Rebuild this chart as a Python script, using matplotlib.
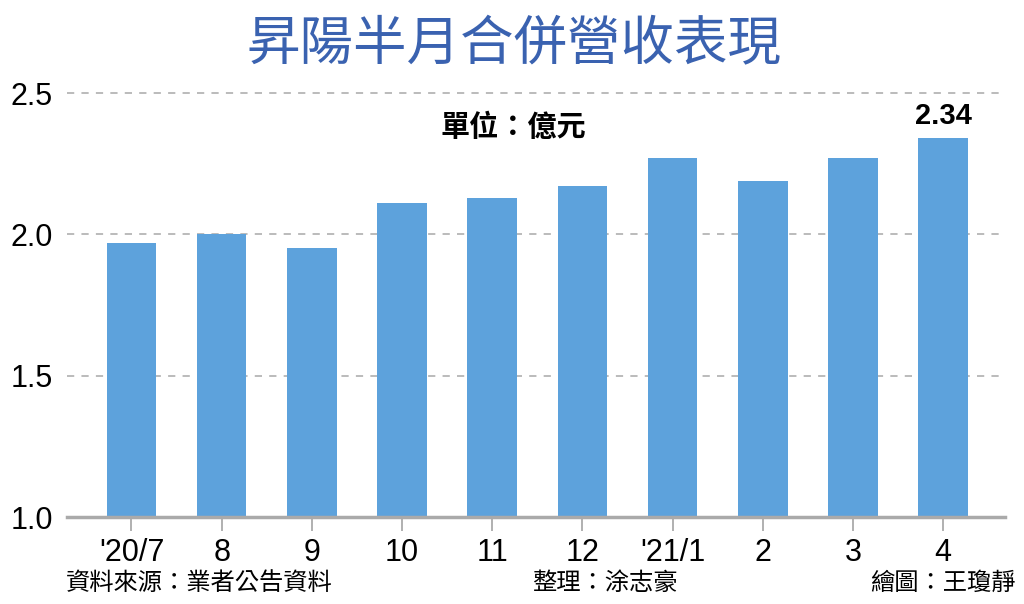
import matplotlib
matplotlib.use("Agg")
import matplotlib.pyplot as plt
import numpy as np

plt.rcParams['font.family'] = ['Noto Sans CJK TC', 'DejaVu Sans']

months = ["'20/7", "8", "9", "10", "11", "12", "'21/1", "2", "3", "4"]
revenue = [1.97, 2.00, 1.95, 2.11, 2.13, 2.17, 2.27, 2.19, 2.27, 2.34]
yticks = [1.0, 1.5, 2.0, 2.5]

fig = plt.figure(figsize=(10.24, 6.04), dpi=100)
ax = fig.add_axes([0.065, 0.144, 0.916, 0.702])

x = np.arange(len(months))
ax.bar(x, revenue, width=0.55, color='#5da2dc', zorder=3)

ax.set_ylim(1.0, 2.5)
ax.set_xlim(-0.72, len(months) - 1 + 0.68)
ax.set_yticks(yticks)
ax.set_yticklabels([f"{v:.1f}" for v in yticks], fontsize=22, family=['Liberation Sans', 'DejaVu Sans'])
ax.set_xticks(x)
ax.set_xticklabels(months, fontsize=22, family=['Liberation Sans Narrow', 'Liberation Sans'])

for v in yticks[1:]:
    ax.axhline(v, color='#b5b5b5', lw=1.3, ls=(0, (4, 4)), zorder=1, clip_on=False)

for s in ['top', 'right', 'left']:
    ax.spines[s].set_visible(False)
ax.spines['bottom'].set_color('#aaaaaa')
ax.spines['bottom'].set_linewidth(2.5)
ax.spines['bottom'].set_zorder(4)
ax.tick_params(axis='y', length=0, pad=10)
ax.tick_params(axis='x', length=10, width=1.3, color='#aaaaaa', pad=5)

# last value label
ax.text(x[-1], revenue[-1] + 0.03, f"{revenue[-1]:.2f}", ha='center', va='bottom',
        fontsize=21, fontweight='bold', family=['Liberation Sans', 'DejaVu Sans'])

fig.text(0.502, 0.925, "昇陽半月合併營收表現", ha='center', va='center',
         fontsize=38.5, color='#3a62b0')
fig.text(0.501, 0.79, "單位：億元", ha='center', va='center', fontsize=21, fontweight='bold')

fig.text(0.064, 0.035, "資料來源：業者公告資料", ha='left', va='center', fontsize=17.5)
fig.text(0.591, 0.035, "整理：涂志豪", ha='center', va='center', fontsize=17.5)
fig.text(0.992, 0.035, "繪圖：王瓊靜", ha='right', va='center', fontsize=17.5)

fig.savefig("out.png", dpi=100, facecolor='white')
